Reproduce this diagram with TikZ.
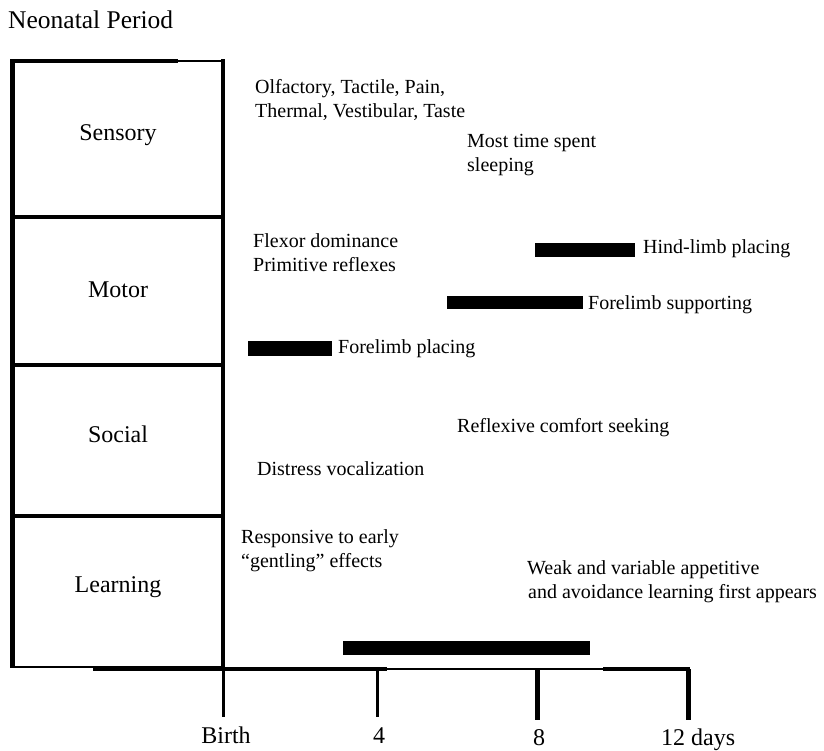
\documentclass[tikz,border=0pt]{standalone}
\usepackage{fontspec}
\setmainfont{Liberation Serif}
\begin{document}
\begin{tikzpicture}[x=1pt,y=-1pt,
  note/.style={anchor=base west, inner sep=0pt, font=\fontsize{20}{24}\selectfont},
  cat/.style={anchor=base, inner sep=0pt, font=\fontsize{24}{28}\selectfont},
  ticklbl/.style={anchor=base, inner sep=0pt, font=\fontsize{24}{28}\selectfont},
  bar/.style={fill=black, draw=none, inner sep=0pt, anchor=north west},
  heavy/.style={line width=4.5pt},
  divider/.style={line width=4pt},
  thinrule/.style={line width=2.2pt},
  tickline/.style={line width=3pt},
  bigtick/.style={line width=5pt}
]
\useasboundingbox (0,0) rectangle (824,750);

% title
\node[anchor=base west, inner sep=0pt, font=\fontsize{25.5}{30}\selectfont] (title) at (8,28) {Neonatal Period};

% category column
\coordinate (tl) at (12.5,61);
\coordinate (tr) at (223,61);
\coordinate (bl) at (12.5,667);
\coordinate (br) at (223,667);
\draw[divider] (10,61) -- (178,61);
\draw[thinrule] (178,61) -- (225,61);
\draw[heavy] (12.5,59) -- (bl);
\draw[heavy] (223,59) -- (223,669);
\draw[divider] (12,217) -- (223,217);
\draw[divider] (12,365) -- (223,365);
\draw[divider] (12,516) -- (223,516);
\draw[thinrule] (10,667) -- (br);

\node[cat] (sensory)  at (118,140) {Sensory};
\node[cat] (motor)    at (118,297) {Motor};
\node[cat] (social)   at (118,442) {Social};
\node[cat] (learning) at (118,592) {Learning};

% time axis
\coordinate (a0) at (93,669);
\coordinate (t0) at (223,669);
\coordinate (t4) at (377,669);
\coordinate (a1) at (387,669);
\coordinate (a2) at (603,669);
\coordinate (t8) at (537,669);
\coordinate (t12) at (688,669);
\coordinate (a3) at (690,669);
\draw[line width=3.5pt] (a0) -- (a1);
\draw[thinrule] (a1) -- (a2);
\draw[line width=4pt] (a2) -- (a3);
\draw[tickline] (t0) -- ++(0,48);
\draw[tickline] (t4) -- ++(0,48);
\draw[bigtick] (t8) -- ++(0,51);
\draw[bigtick] (t12) -- ++(0,51);

\node[ticklbl] (lbirth) at (226,743) {Birth};
\node[ticklbl] (l4) at (379,743) {4};
\node[ticklbl] (l8) at (539,745) {8};
\node[anchor=base west, inner sep=0pt, font=\fontsize{24}{28}\selectfont] (l12) at (661,745) {12 days};

% sensory notes
\node[note] (olf1) at (255,93) {Olfactory, Tactile, Pain,};
\node[note] (olf2) at (255,117) {Thermal, Vestibular, Taste};
\node[note] (sleep1) at (467,147) {Most time spent};
\node[note] (sleep2) at (467,171) {sleeping};

% motor notes and bars
\node[note] (flex) at (253,247) {Flexor dominance};
\node[note] (prim) at (253,271) {Primitive reflexes};
\node[bar, minimum width=100pt, minimum height=14pt] (hbar) at (535,243) {};
\node[note] (hind) at (643,253) {Hind-limb placing};
\node[bar, minimum width=136pt, minimum height=13pt] (fsbar) at (447,296) {};
\node[note] (fsup) at (588,309) {Forelimb supporting};
\node[bar, minimum width=84pt, minimum height=15pt] (fpbar) at (248,341) {};
\node[note] (fpl) at (338,353) {Forelimb placing};

% social notes
\node[note] (refl) at (457,432) {Reflexive comfort seeking};
\node[note] (dist) at (257,475) {Distress vocalization};

% learning notes and bar
\node[note] (resp1) at (241,543) {Responsive to early};
\node[note] (resp2) at (241,567) {“gentling” effects};
\node[note] (weak1) at (527,574) {Weak and variable appetitive};
\node[note] (weak2) at (528,598) {and avoidance learning first appears};
\node[bar, minimum width=247pt, minimum height=14pt] (lbar) at (343,641) {};

\end{tikzpicture}
\end{document}
